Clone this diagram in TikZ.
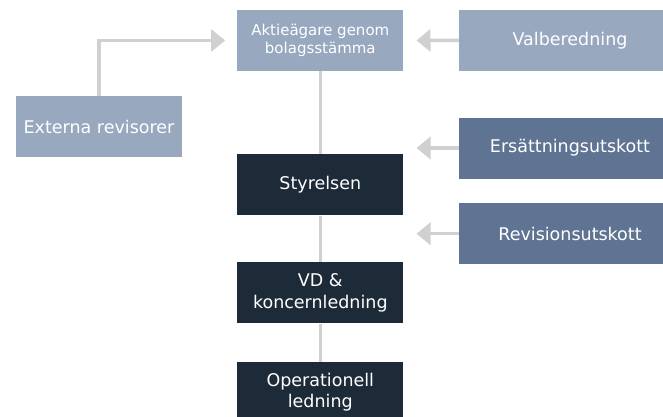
\documentclass[tikz,border=0pt]{standalone}
\usepackage{fontspec}
\setmainfont{DejaVu Sans}
\usetikzlibrary{arrows.meta}
\definecolor{lightbox}{HTML}{97A8BF}
\definecolor{midbox}{HTML}{5F7493}
\definecolor{darkbox}{HTML}{1D2B39}
\definecolor{conn}{HTML}{D0D0D0}
\tikzset{
  box/.style={rectangle, inner sep=0pt, text=white, align=center, anchor=center},
  colbox/.style={box, minimum width=166pt, minimum height=61pt},
  sidebox/.style={box, minimum width=222pt, minimum height=61pt},
  leftbox/.style={box, minimum width=166pt, minimum height=61pt},
  bigtext/.style={font=\fontsize{17.5}{21.5}\selectfont},
  smalltext/.style={font=\fontsize{15}{18.5}\selectfont},
  link/.style={draw=conn, line width=3.5pt},
  arr/.style={link, -{Triangle[length=14pt,width=22pt]}, shorten >=13pt},
}
\begin{document}
\begin{tikzpicture}[x=1pt,y=-1pt]
\useasboundingbox (0,0) rectangle (663,417);
\begin{scope}
\clip (0,0) rectangle (663,417);
\node[colbox, fill=lightbox, smalltext] (aktie) at (320.3,40.5) {Aktieägare genom\\bolagsstämma};
\node[colbox, fill=darkbox, bigtext] (styr) at (320.3,184.8) {Styrelsen};
\node[colbox, fill=darkbox, bigtext] (vd) at (320.3,292.8) {VD \&\\koncernledning};
\node[colbox, fill=darkbox, bigtext] (op) at (320.3,392.2) {Operationell\\ledning};
\node[sidebox, fill=lightbox, bigtext] (valb) at (570,40.3) {Valberedning};
\node[sidebox, fill=midbox, bigtext] (ers) at (570,148) {Ersättningsutskott};
\node[sidebox, fill=midbox, bigtext] (rev) at (570,233.7) {Revisionsutskott};
\node[leftbox, fill=lightbox, bigtext] (ext) at (99,126.5) {Externa revisorer};
\draw[link] (aktie.south) -- (styr.north);
\draw[link] (styr.south) -- (vd.north);
\draw[link] (vd.south) -- (op.north);
\draw[arr] (valb.west) -- (aktie.east);
\draw[arr] (ers.west) -- (aktie.east |- ers.west);
\draw[arr] (rev.west) -- (aktie.east |- rev.west);
\draw[arr, shorten >=12pt] (ext.north) |- (aktie.west);
\end{scope}
\end{tikzpicture}
\end{document}
